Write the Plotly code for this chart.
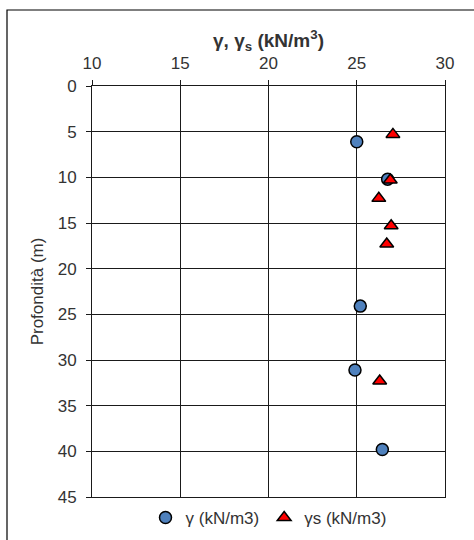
import plotly.graph_objects as go

# Data
gamma_x = [25.0, 26.75, 25.2, 24.9, 26.45]
gamma_depth = [6.1, 10.2, 24.1, 31.1, 39.8]
gammas_x = [27.05, 26.9, 26.25, 26.95, 26.7, 26.3]
gammas_depth = [5.3, 10.3, 12.3, 15.3, 17.3, 32.3]

x_ticks = [10, 15, 20, 25, 30]
y_ticks = [0, 5, 10, 15, 20, 25, 30, 35, 40, 45]

font_family = "Liberation Sans, Arial, sans-serif"
txt = "#333333"

fig = go.Figure()
fig.add_trace(go.Scatter(
    x=gamma_x, y=gamma_depth, mode="markers", name="γ (kN/m3)",
    marker=dict(symbol="circle", size=12, color="#4F81BD",
                line=dict(color="#000000", width=1.5)),
))
fig.add_trace(go.Scatter(
    x=gammas_x, y=gammas_depth, mode="markers", name="γs (kN/m3)",
    marker=dict(symbol="triangle-up", size=12, color="#FF0000",
                line=dict(color="#000000", width=1.5)),
))

fig.update_layout(
    width=474, height=540,
    margin=dict(l=92, r=29, t=86, b=43, autoexpand=False),
    paper_bgcolor="white", plot_bgcolor="white",
    font=dict(family=font_family, size=17, color=txt),
    showlegend=True,
    legend=dict(orientation="h", x=0.5, xanchor="center", y=-(518 - 497) / 411, yanchor="middle",
                font=dict(size=17, color=txt), itemwidth=30, tracegroupgap=0,
                bgcolor="rgba(0,0,0,0)"),
    xaxis=dict(
        side="top", range=[10, 30], tickvals=x_ticks,
        showgrid=True, gridcolor="#1a1a1a", gridwidth=1,
        showline=True, linecolor="#1a1a1a", linewidth=1, mirror=True,
        ticks="outside", ticklen=5, tickcolor="#1a1a1a",
        zeroline=False, ticklabelstandoff=4,
        tickfont=dict(size=17, color=txt),
        title=dict(text="<b>γ, γ<sub>s</sub> (kN/m<sup>3</sup>)</b>",
                   font=dict(size=19, color=txt), standoff=0),
    ),
    yaxis=dict(
        range=[45, 0], tickvals=y_ticks,
        showgrid=True, gridcolor="#1a1a1a", gridwidth=1,
        showline=True, linecolor="#1a1a1a", linewidth=1, mirror=True,
        ticks="outside", ticklen=5, tickcolor="#1a1a1a",
        zeroline=False, ticklabelstandoff=6,
        tickfont=dict(size=17, color=txt),
        title=dict(text="Profondità (m)", font=dict(size=17, color=txt), standoff=9),
    ),
    shapes=[dict(type="rect", xref="paper", yref="paper",
                 x0=(7 - 92) / 353, x1=(480 - 92) / 353,
                 y0=-(550 - 497) / 411, y1=1 + (86 - 10) / 411,
                 line=dict(color="#000000", width=1.2), layer="below")],
)

fig.write_html("out.html")
